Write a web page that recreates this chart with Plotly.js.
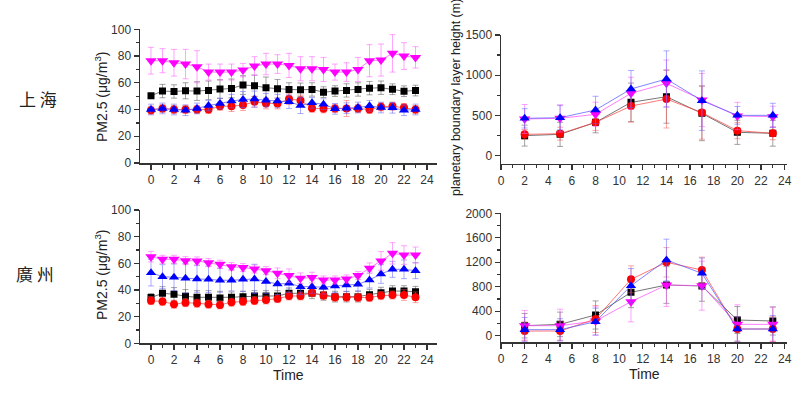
<!DOCTYPE html>
<html>
<head>
<meta charset="utf-8">
<script src="https://cdn.plot.ly/plotly-3.0.1.min.js"></script>
<style>html,body{margin:0;padding:0;background:#fff;}#chart{width:800px;height:399px;}</style>
</head>
<body>
<div id="chart"></div>
<script>
// ---- data ----
const hours = [0,1,2,3,4,5,6,7,8,9,10,11,12,13,14,15,16,17,18,19,20,21,22,23];
const pblHours = [2,5,8,11,14,17,20,23];

// Shanghai PM2.5
const shBlack = [50.3,53.8,53.5,54,53.8,54.3,55.3,55.8,58.3,57.8,56.3,55.5,55,54.8,55,53,53.8,54.3,55,56,56.3,55.2,53.7,54.2];
const shBlackErr = [1,5,5,6,7,7,7,7,7,8,8,7,5,5,5,4,4,5,5,5,5,4,4,4];
const shRed = [39.5,40.8,40,40,40,40,42.5,42.5,43.3,45.8,44.5,44.5,47.8,46.8,41,40.5,40.8,40.8,40.8,40,42,42.5,41.5,40];
const shRedErr = [3,3,3,3,3,3,3,4,4,4,4,4,4,4,3,3,3,6,3,3,3,3,3,3];
const shBlue = [40,40.8,40,39.5,40.8,43,44.5,46.3,47.5,47.8,47,46.3,45.8,43,45,44,40.5,41,41.5,42.8,41.5,41.3,39.5,40];
const shBlueErr = [4,4,4,4,4,4,4,5,6,6,5,5,5,6,4,4,4,4,4,4,4,4,4,4];
const shMag = [76.5,76.5,75,74,72,68,68,68,69.5,72.5,74,74,73,70.5,70.5,70,68,68,70,76.5,77,82,80,79];
const shMagErr = [10,9,10,11,12,6,6,6,5,7,8,7,9,9,9,9,6,7,9,12,12,14,10,8];

// Guangzhou PM2.5
const gzBlack = [34.3,37.5,36.8,35.3,34.5,34.5,34,34.5,35,35.5,35.5,35.5,37.5,37.5,37.5,36.3,35,35,35,36.5,38,39.2,39.2,38.7];
const gzBlackErr = [3,5,5,5,5,5,5,4,4,4,4,4,4,4,4,4,4,4,4,4,4,4,4,4];
const gzRed = [32,31.3,29.3,30.5,30,29.3,28.8,30.8,31.3,32,32.5,33.5,35.5,35.5,38,35.8,34.5,34.5,34.3,34.3,35.8,36.2,36.2,34.5];
const gzRedErr = [3,3,3,3,3,3,3,3,3,3,3,3,3,3,3,3,3,3,3,3,3,3,4,4];
const gzBlue = [53,50,49.5,48.8,48.3,48,47.3,47.3,48,48.3,46.3,44.5,45,42.5,42.5,42,43,43.8,44.3,47.5,52,55.5,55.5,54.5];
const gzBlueErr = [10,9,10,11,10,10,9,8,9,11,9,8,7,6,5,5,5,5,5,6,7,6,7,6];
const gzMag = [65,63,63,62,61.8,60.5,59.3,57.5,56.8,55.8,54.5,52.5,50.8,48.8,49.3,47.5,47.5,48.3,50.8,56.3,61.8,67.5,66.2,66.2];
const gzMagErr = [4,3,3,3,3,3,3,3,3,3,3,4,5,4,4,3,3,3,3,4,7,8,7,6];

// Shanghai PBL height
const shPblBlack = [249,265,414,663,733,526,290,278];
const shPblBlackErr = [130,150,130,240,330,340,150,160];
const shPblRed = [265,273,414,617,704,535,311,278];
const shPblRedErr = [60,80,100,200,360,330,100,80];
const shPblBlue = [464,472,568,829,953,684,501,501];
const shPblBlueErr = [120,150,170,230,350,370,110,150];
const shPblMag = [456,464,514,775,899,692,493,485];
const shPblMagErr = [180,170,150,200,290,330,170,130];

// Guangzhou PBL height
const gzPblBlack = [163,185,338,708,828,812,256,240];
const gzPblBlackErr = [200,200,230,250,300,250,220,230];
const gzPblRed = [76,76,272,921,1199,1073,109,109];
const gzPblRedErr = [150,150,220,220,240,210,200,200];
const gzPblBlue = [98,98,229,817,1237,1019,109,109];
const gzPblBlueErr = [200,180,220,280,340,250,200,220];
const gzPblMag = [163,163,240,556,828,817,185,185];
const gzPblMagErr = [250,270,230,330,350,400,320,280];

// ---- styling ----
const S = {
  black: {c:'#000000', e:'rgba(90,90,90,0.55)', l:'rgba(60,60,60,0.7)', sym:'square', size:7},
  red:   {c:'#ff0000', e:'rgba(255,80,80,0.5)', l:'rgba(255,60,60,0.7)', sym:'circle', size:8},
  blue:  {c:'#0000ff', e:'rgba(90,90,255,0.5)', l:'rgba(80,80,255,0.7)', sym:'triangle-up', size:9},
  mag:   {c:'#ff00ff', e:'rgba(255,90,255,0.55)', l:'rgba(255,80,255,0.75)', sym:'triangle-down', size:10}
};
function tr(x, y, err, st, xa, ya){
  return {x:x, y:y, type:'scatter', mode:'lines+markers', xaxis:xa, yaxis:ya,
    line:{color:st.l, width:1},
    marker:{symbol:st.sym, size:st.size, color:st.c, line:{width:0}},
    error_y:{type:'data', array:err, visible:true, color:st.e, thickness:1, width:3},
    showlegend:false, hoverinfo:'skip'};
}
const data = [
  tr(hours, shBlack, shBlackErr, S.black, 'x', 'y'),
  tr(hours, shRed, shRedErr, S.red, 'x', 'y'),
  tr(hours, shBlue, shBlueErr, S.blue, 'x', 'y'),
  tr(hours, shMag, shMagErr, S.mag, 'x', 'y'),
  tr(pblHours, shPblBlack, shPblBlackErr, S.black, 'x2', 'y2'),
  tr(pblHours, shPblRed, shPblRedErr, S.red, 'x2', 'y2'),
  tr(pblHours, shPblMag, shPblMagErr, S.mag, 'x2', 'y2'),
  tr(pblHours, shPblBlue, shPblBlueErr, S.blue, 'x2', 'y2'),
  tr(hours, gzBlack, gzBlackErr, S.black, 'x3', 'y3'),
  tr(hours, gzRed, gzRedErr, S.red, 'x3', 'y3'),
  tr(hours, gzBlue, gzBlueErr, S.blue, 'x3', 'y3'),
  tr(hours, gzMag, gzMagErr, S.mag, 'x3', 'y3'),
  tr(pblHours, gzPblBlack, gzPblBlackErr, S.black, 'x4', 'y4'),
  tr(pblHours, gzPblMag, gzPblMagErr, S.mag, 'x4', 'y4'),
  tr(pblHours, gzPblRed, gzPblRedErr, S.red, 'x4', 'y4'),
  tr(pblHours, gzPblBlue, gzPblBlueErr, S.blue, 'x4', 'y4')
];

const tickFont = {family:'Liberation Sans, Arial, sans-serif', size:12, color:'#333'};
function ax(extra){
  return Object.assign({showline:true, linecolor:'#333', linewidth:1.5, showgrid:false, zeroline:false,
    ticks:'outside', ticklen:5, tickwidth:1.3, tickcolor:'#333', tickfont:tickFont, fixedrange:true}, extra);
}
const H = 399;
function yf(px){ return (H - px)/H; }

const layout = {
  width:800, height:399, margin:{l:0,r:0,t:0,b:0},
  paper_bgcolor:'#fff', plot_bgcolor:'rgba(0,0,0,0)',
  xaxis: ax({domain:[140/800, 437/800], range:[-0.957, 24.87], anchor:'y', tick0:0, dtick:2,
    minor:{dtick:1, ticks:'outside', ticklen:3, tickcolor:'#333'}}),
  yaxis: ax({domain:[yf(163), yf(29.3)], range:[0, 100], anchor:'x', tick0:0, dtick:20,
    minor:{dtick:10, ticks:'outside', ticklen:3, tickcolor:'#333'}}),
  xaxis2: ax({domain:[501/800, 787/800], range:[0, 24.2], anchor:'y2', tick0:0, dtick:2,
    minor:{dtick:1, ticks:'outside', ticklen:3, tickcolor:'#333'}}),
  yaxis2: ax({domain:[yf(163.7), yf(35)], range:[-100, 1500], anchor:'x2', tickvals:[0,500,1000,1500],
    minor:{tickvals:[250,750,1250], ticks:'outside', ticklen:3, tickcolor:'#333'}}),
  xaxis3: ax({domain:[140/800, 437/800], range:[-0.957, 24.87], anchor:'y3', tick0:0, dtick:2,
    minor:{dtick:1, ticks:'outside', ticklen:3, tickcolor:'#333'}}),
  yaxis3: ax({domain:[yf(343.3), yf(210)], range:[0, 100], anchor:'x3', tick0:0, dtick:20,
    minor:{dtick:10, ticks:'outside', ticklen:3, tickcolor:'#333'}}),
  xaxis4: ax({domain:[501/800, 787/800], range:[0, 24.2], anchor:'y4', tick0:0, dtick:2,
    minor:{dtick:1, ticks:'outside', ticklen:3, tickcolor:'#333'}}),
  yaxis4: ax({domain:[yf(342.4), yf(213.3)], range:[-110, 2000], anchor:'x4', tickvals:[0,400,800,1200,1600,2000],
    minor:{tickvals:[200,600,1000,1400,1800], ticks:'outside', ticklen:3, tickcolor:'#333'}}),
  annotations: [
    {text:'PM2.5 (μg/m<sup>3</sup>)', xref:'paper', yref:'paper', x:101/800, y:yf(97), textangle:-90,
      showarrow:false, xanchor:'center', yanchor:'middle', font:{family:'Liberation Sans, Arial, sans-serif', size:14, color:'#222'}},
    {text:'PM2.5 (μg/m<sup>3</sup>)', xref:'paper', yref:'paper', x:101/800, y:yf(275), textangle:-90,
      showarrow:false, xanchor:'center', yanchor:'middle', font:{family:'Liberation Sans, Arial, sans-serif', size:14, color:'#222'}},
    {text:'planetary boundary layer height (m)', xref:'paper', yref:'paper', x:456/800, y:yf(97), textangle:-90,
      showarrow:false, xanchor:'center', yanchor:'middle', font:{family:'Liberation Sans, Arial, sans-serif', size:12.5, color:'#222'}},
    {text:'Time', xref:'paper', yref:'paper', x:288/800, y:yf(375), showarrow:false, xanchor:'center', yanchor:'middle',
      font:{family:'Liberation Sans, Arial, sans-serif', size:14, color:'#222'}},
    {text:'Time', xref:'paper', yref:'paper', x:644/800, y:yf(374), showarrow:false, xanchor:'center', yanchor:'middle',
      font:{family:'Liberation Sans, Arial, sans-serif', size:14, color:'#222'}},
    {text:'上 海', xref:'paper', yref:'paper', x:38/800, y:yf(98), showarrow:false, xanchor:'center', yanchor:'middle',
      font:{family:'Noto Sans CJK TC, Noto Sans CJK SC, sans-serif', size:17, color:'#222'}},
    {text:'廣 州', xref:'paper', yref:'paper', x:35/800, y:yf(273), showarrow:false, xanchor:'center', yanchor:'middle',
      font:{family:'Noto Sans CJK TC, Noto Sans CJK SC, sans-serif', size:17, color:'#222'}}
  ]
};
Plotly.newPlot('chart', data, layout, {displayModeBar:false, staticPlot:true});
</script>
</body>
</html>
